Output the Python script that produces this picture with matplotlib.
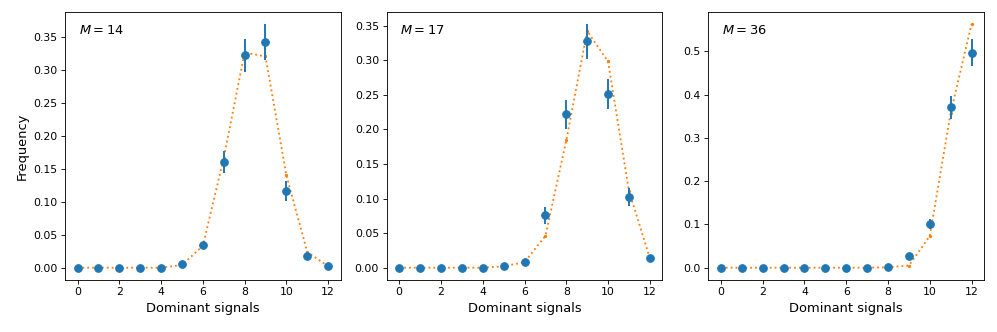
import numpy as np
import matplotlib
matplotlib.use("Agg")
import matplotlib.pyplot as plt

# -----------------------------------------------------------------

signals = list(range(13))
labels = ["$M = 14$", "$M = 17$", "$M = 36$"]

# measured frequencies with error bars
freq14 = [0, 0, 0, 0, 0, 0.0056, 0.034, 0.160, 0.322, 0.342, 0.116, 0.018, 0.002]
err14 = [0, 0, 0, 0, 0, 0.002, 0.005, 0.017, 0.025, 0.027, 0.015, 0.003, 0.001]
freq17 = [0, 0, 0, 0, 0, 0.002, 0.0077, 0.0757, 0.222, 0.327, 0.251, 0.102, 0.014]
err17 = [0, 0, 0, 0, 0, 0.001, 0.002, 0.012, 0.021, 0.025, 0.022, 0.013, 0.002]
freq36 = [0, 0, 0, 0, 0, 0, 0, 0, 0.0015, 0.026, 0.101, 0.371, 0.497]
err36 = [0, 0, 0, 0, 0, 0, 0, 0, 0.001, 0.004, 0.012, 0.027, 0.031]

# model predictions
model14 = [0, 0, 0, 0, 0, 0.004, 0.033, 0.166, 0.326, 0.320, 0.140, 0.024, 0.002]
model17 = [0, 0, 0, 0, 0, 0.002, 0.008, 0.046, 0.184, 0.342, 0.298, 0.111, 0.014]
model36 = [0, 0, 0, 0, 0, 0, 0, 0, 0.001, 0.005, 0.073, 0.357, 0.563]

# -----------------------------------------------------------------

dpi = 78
fig, axes = plt.subplots(ncols=3, nrows=1, figsize=(997/dpi, 332/dpi), dpi=dpi)
fig.subplots_adjust(left=0.0652, right=0.987, top=0.964, bottom=0.157, wspace=0.167)

panels = [(freq14, err14, model14), (freq17, err17, model17), (freq36, err36, model36)]
for ax, label, (freq, err, model) in zip(axes, labels, panels):
    ax.errorbar(signals, freq, yerr=err, fmt='o', ms=7, elinewidth=1.8, color='C0', zorder=3)
    ax.plot(signals, model, ls=':', lw=1.7, marker='.', ms=4, color='C1', zorder=2)
    ax.text(0.05, 0.955, label, transform=ax.transAxes, va='top', ha='left', fontsize=12)
    ax.set_xticks(range(0, 13, 2))
    ax.set_xlabel("Dominant signals", fontsize=12)
axes[0].set_ylabel("Frequency", fontsize=12)

plt.savefig("out.png", dpi=dpi)
plt.close()
